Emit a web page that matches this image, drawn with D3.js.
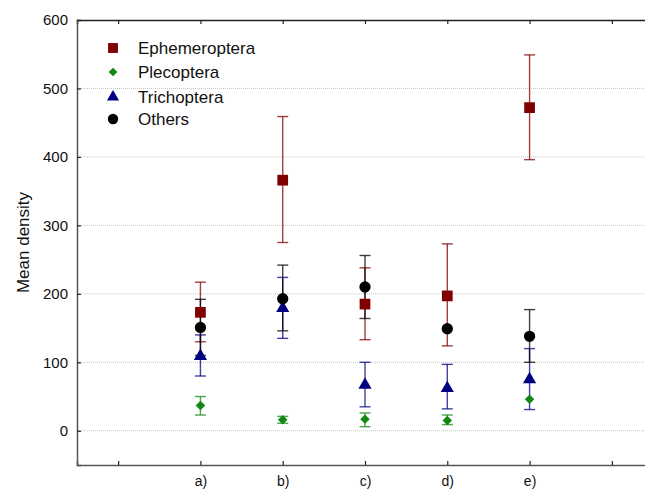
<!DOCTYPE html>
<html>
<head>
<meta charset="utf-8">
<script src="https://cdn.jsdelivr.net/npm/d3@7"></script>
<style>
  html, body { margin: 0; padding: 0; background: #fff; }
  svg { display: block; font-family: "Liberation Sans", Arial, sans-serif; }
</style>
</head>
<body>
<svg id="chart" width="645" height="490"></svg>
<script>
// Sites along the x axis (tick slots 0..6, labelled slots 1..5)
const tickSlots = [0, 1, 2, 3, 4, 5, 6];
const categories = ["a)", "b)", "c)", "d)", "e)"];
const yTicks = [0, 100, 200, 300, 400, 500, 600];

// Mean density with lower / upper error limits per taxon
const ephMean = [173, 366, 185, 197, 472];
const ephLow  = [130, 275, 133, 124, 396];
const ephHigh = [217, 459, 238, 273, 549];

const pleMean = [37, 16, 17, 15, 46];
const pleLow  = [23, 11, 6, 9, null];
const pleHigh = [50, 21, 26, 23, null];

const triMean = [109, 179, 67, 62, 75];
const triLow  = [80, 135, 35, 32, 31];
const triHigh = [140, 224, 100, 97, 120];

const othMean = [151, 193, 210, 149, 138];
const othLow  = [110, 146, 164, null, 100];
const othHigh = [192, 242, 256, null, 177];

const seriesNames = ["Ephemeroptera", "Plecoptera", "Trichoptera", "Others"];

// square turned 45 degrees for the Plecoptera marker
const turnedSquare = {
  draw(context, size) {
    const r = Math.sqrt(size / 2);
    context.moveTo(0, -r);
    context.lineTo(r, 0);
    context.lineTo(0, r);
    context.lineTo(-r, 0);
    context.closePath();
  }
};

const series = [
  { name: seriesNames[0], mean: ephMean, low: ephLow, high: ephHigh, color: "#800000", shape: d3.symbolSquare, size: 115 },
  { name: seriesNames[1], mean: pleMean, low: pleLow, high: pleHigh, color: "#118811", shape: turnedSquare, size: 45 },
  { name: seriesNames[2], mean: triMean, low: triLow, high: triHigh, color: "#000080", shape: d3.symbolTriangle, size: 75 },
  { name: seriesNames[3], mean: othMean, low: othLow, high: othHigh, color: "#000000", shape: d3.symbolCircle, size: 100 }
];

const svg = d3.select("#chart");
const plotLeft = 77, plotRight = 653, plotTop = 20, plotBottom = 465;

const x = d3.scaleLinear().domain([-0.5, 6.5]).range([plotLeft, plotRight]);
const y = d3.scaleLinear().domain([-50, 600]).range([plotBottom, plotTop]);

// horizontal dotted grid
svg.append("g").selectAll("line")
  .data(yTicks.filter(v => v < 600))
  .join("line")
  .attr("x1", plotLeft).attr("x2", plotRight)
  .attr("y1", d => y(d)).attr("y2", d => y(d))
  .attr("stroke", "#c4c4c4").attr("stroke-width", 1)
  .attr("stroke-dasharray", "1,1");

// top frame with inward ticks
svg.append("g")
  .attr("transform", `translate(0,${plotTop})`)
  .call(d3.axisTop(x).tickValues(tickSlots).tickSize(-4).tickFormat(""))
  .call(g => g.select(".domain").attr("stroke", "#222").attr("stroke-width", 1.5))
  .call(g => g.selectAll(".tick line").attr("stroke", "#222").attr("stroke-width", 1.2));

// bottom axis
const labelFor = i => (i >= 1 && i <= categories.length) ? categories[i - 1] : "";
svg.append("g")
  .attr("transform", `translate(0,${plotBottom})`)
  .call(d3.axisBottom(x).tickValues(tickSlots).tickSize(-4).tickPadding(11).tickFormat(labelFor))
  .call(g => g.select(".domain").attr("stroke", "#555").attr("stroke-width", 1.5))
  .call(g => g.selectAll(".tick line").attr("stroke", "#222").attr("stroke-width", 1.2))
  .call(g => g.selectAll(".tick text").attr("font-size", 14).attr("fill", "#111")
        .attr("font-family", "'Liberation Sans', Arial, sans-serif"));

// left axis
svg.append("g")
  .attr("transform", `translate(${plotLeft},0)`)
  .call(d3.axisLeft(y).tickValues(yTicks).tickSize(-4).tickPadding(9))
  .call(g => g.select(".domain").attr("stroke", "#555").attr("stroke-width", 1.5))
  .call(g => g.selectAll(".tick line").attr("stroke", "#222").attr("stroke-width", 1.2))
  .call(g => g.selectAll(".tick text").attr("font-size", 15).attr("fill", "#111")
        .attr("font-family", "'Liberation Sans', Arial, sans-serif"));

// y axis title
svg.append("text")
  .attr("transform", `translate(29,${y(275)}) rotate(-90)`)
  .attr("text-anchor", "middle")
  .attr("font-size", 17)
  .attr("fill", "#111")
  .text("Mean density");

// error bars first, then markers on top
const capHalf = 5.5;
const bars = svg.append("g");
series.forEach(s => {
  s.mean.forEach((m, i) => {
    if (s.low[i] == null || s.high[i] == null) return;
    const cx = x(i + 1);
    const g = bars.append("g").attr("stroke", s.color).attr("stroke-width", 1.4).attr("stroke-opacity", 0.75);
    g.append("line").attr("x1", cx).attr("x2", cx).attr("y1", y(s.low[i])).attr("y2", y(s.high[i]));
    g.append("line").attr("x1", cx - capHalf).attr("x2", cx + capHalf).attr("y1", y(s.low[i])).attr("y2", y(s.low[i]));
    g.append("line").attr("x1", cx - capHalf).attr("x2", cx + capHalf).attr("y1", y(s.high[i])).attr("y2", y(s.high[i]));
  });
});

const marks = svg.append("g");
series.forEach(s => {
  marks.append("g").selectAll("path")
    .data(s.mean)
    .join("path")
    .attr("transform", (d, i) => `translate(${x(i + 1)},${y(d)})`)
    .attr("d", d3.symbol().type(s.shape).size(s.size))
    .attr("fill", s.color);
});

// legend
const legend = svg.append("g").attr("transform", "translate(113,48)");
series.forEach((s, i) => {
  const rowY = [0, 24, 49, 71][i];
  legend.append("path")
    .attr("transform", `translate(0,${rowY})`)
    .attr("d", d3.symbol().type(s.shape).size(s.size * 0.85))
    .attr("fill", s.color);
  legend.append("text")
    .attr("x", 25).attr("y", rowY)
    .attr("dy", "0.36em")
    .attr("font-size", 17)
    .attr("fill", "#111")
    .text(s.name);
});
</script>
</body>
</html>
